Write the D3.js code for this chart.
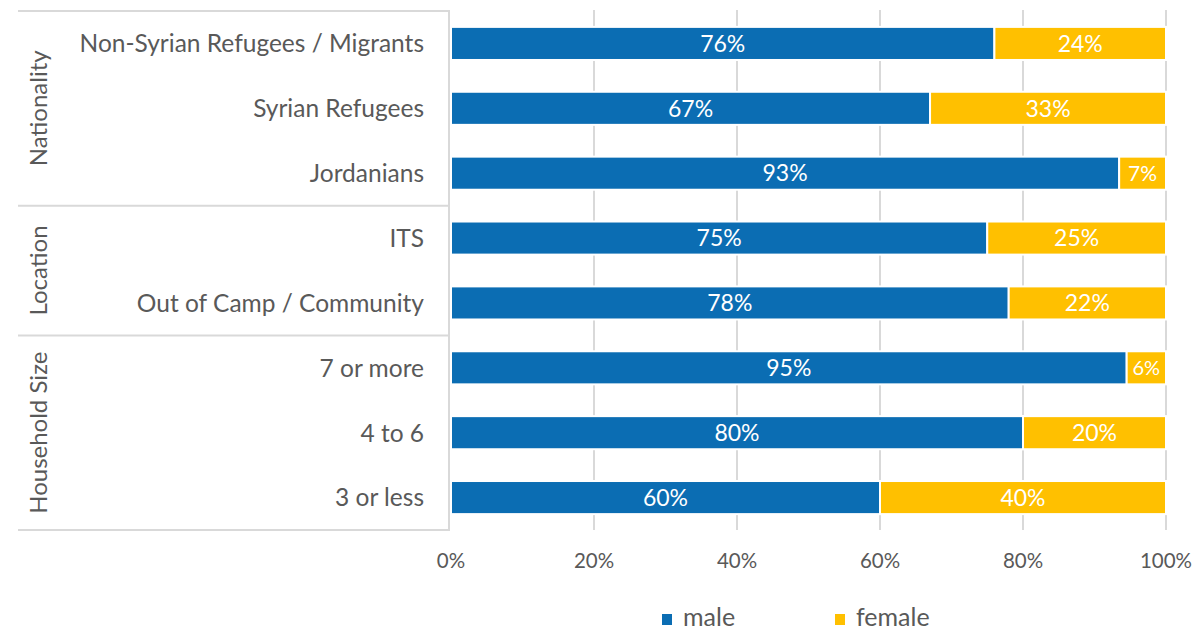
<!DOCTYPE html>
<html><head><meta charset="utf-8">
<script src="https://cdn.jsdelivr.net/npm/d3@7"></script>
<style>body{margin:0;background:#fff}svg{display:block}text{font-family:Lato,"Open Sans",sans-serif}</style>
</head><body><svg id="c" width="1196" height="629"></svg>
<script>
const categories = ["Non-Syrian Refugees / Migrants","Syrian Refugees","Jordanians","ITS","Out of Camp / Community","7 or more","4 to 6","3 or less"];
const groups = ["Nationality","Nationality","Nationality","Location","Location","Household Size","Household Size","Household Size"];
const groupNames = ["Nationality","Location","Household Size"];
const male = [76, 67, 93.45, 75, 78, 94.5, 80, 60];
const female = [24, 33, 6.55, 25, 22, 5.5, 20, 40];
const tickValues = [0, 20, 40, 60, 80, 100];
const seriesNames = ["male","female"];
const colors = ["#0b6db3","#ffc000"];

const svg = d3.select("#c");
const x = d3.scaleLinear().domain([0,100]).range([451,1166]);
const y = d3.scaleBand().domain(categories).range([11,530]).paddingInner(0.49).paddingOuter(0.245);
const grid = "#d9d9d9";
const txt = "#595959";

// gridlines
svg.append("g").selectAll("line").data(tickValues.slice(1)).join("line")
  .attr("x1",d=>x(d)).attr("x2",d=>x(d)).attr("y1",10).attr("y2",530)
  .attr("stroke",grid).attr("stroke-width",2);

// stacked bars
const stackData = categories.map((c,i)=>({cat:c, male:male[i], female:female[i]}));
const stack = d3.stack().keys(seriesNames)(stackData);
const layers = svg.append("g").selectAll("g").data(stack).join("g").attr("fill",(d,i)=>colors[i]);
layers.selectAll("rect").data(d=>d).join("rect")
  .attr("x",d=>x(d[0])).attr("width",d=>x(d[1])-x(d[0]))
  .attr("y",d=>y(d.data.cat)).attr("height",y.bandwidth())
  .attr("stroke","#fff").attr("stroke-width",2);
layers.selectAll("text").data(d=>d).join("text")
  .attr("x",d=>(x(d[0])+x(d[1]))/2).attr("y",d=>y(d.data.cat)+y.bandwidth()/2)
  .attr("dy","0.36em").attr("text-anchor","middle").attr("fill","#fff")
  .attr("font-size",d=>(d[1]-d[0])<6?20:((d[1]-d[0])<7?21:23))
  .text(d=>Math.round(d[1]-d[0])+"%");

// category labels
svg.append("g").selectAll("text").data(categories).join("text")
  .attr("x",424).attr("y",d=>y(d)+y.bandwidth()/2).attr("dy","0.36em")
  .attr("text-anchor","end").attr("fill",txt).attr("font-size",24.5).text(d=>d);

// group boxes
const bounds = groupNames.map(g=>{
  const idx = categories.map((c,i)=>i).filter(i=>groups[i]===g);
  const top = y(categories[idx[0]]) - y.step()*y.paddingInner()/2;
  const bot = y(categories[idx[idx.length-1]]) + y.bandwidth() + y.step()*y.paddingInner()/2;
  return {g, top, bot};
});
bounds[0].top = 11; bounds[bounds.length-1].bot = 530;
const gb = svg.append("g");
const hy = [11].concat(bounds.map(b=>b.bot));
gb.selectAll("line.h").data(hy).join("line").attr("class","h")
  .attr("x1",18).attr("x2",450).attr("y1",d=>d).attr("y2",d=>d)
  .attr("stroke",grid).attr("stroke-width",2);
gb.append("line").attr("x1",449).attr("x2",449).attr("y1",11).attr("y2",531)
  .attr("stroke",grid).attr("stroke-width",2);
gb.selectAll("text").data(bounds).join("text")
  .attr("transform",d=>`translate(38,${(d.top+d.bot)/2}) rotate(-90)`)
  .attr("dy","0.36em").attr("text-anchor","middle").attr("fill",txt).attr("font-size",24)
  .text(d=>d.g);

// x axis labels
svg.append("g").selectAll("text").data(tickValues).join("text")
  .attr("x",d=>x(d)).attr("y",561).attr("dy","0.36em").attr("text-anchor","middle")
  .attr("fill",txt).attr("font-size",20.5).text(d=>d+"%");

// legend
const lg = svg.append("g");
const lx = [662, 835];
seriesNames.forEach((s,i)=>{
  lg.append("rect").attr("x",lx[i]).attr("y",614).attr("width",10).attr("height",11).attr("fill",colors[i]);
  lg.append("text").attr("x",lx[i]+21).attr("y",617).attr("dy","0.36em")
    .attr("fill",txt).attr("font-size",25).text(s);
});
</script></body></html>
